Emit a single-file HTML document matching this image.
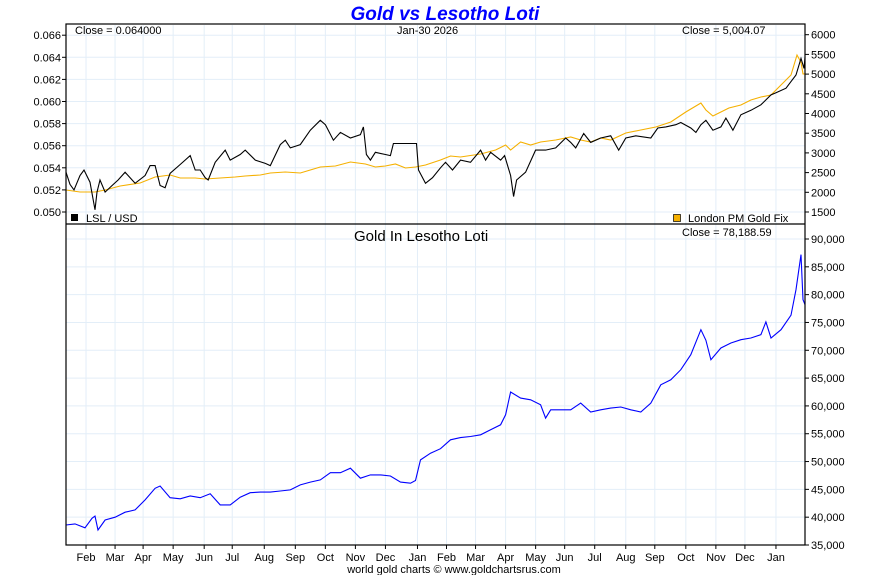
<!DOCTYPE html>
<html><head><meta charset="utf-8"><style>
body{margin:0;background:#fff;}
svg{display:block;font-family:"Liberation Sans",sans-serif;}
</style></head><body>
<svg id="c" width="890" height="575"></svg>
<script>
// ---- data ----
const monthLabels=["Feb","Mar","Apr","May","Jun","Jul","Aug","Sep","Oct","Nov","Dec","Jan","Feb","Mar","Apr","May","Jun","Jul","Aug","Sep","Oct","Nov","Dec","Jan"];
const monthDays=[20,49,77,107,138,166,198,229,259,289,319,351,380,409,439,469,498,528,559,588,619,649,678,709];
const leftTicks=[0.050,0.052,0.054,0.056,0.058,0.060,0.062,0.064,0.066];
const rightTicks=[1500,2000,2500,3000,3500,4000,4500,5000,5500,6000];
const bottomTicks=[35000,40000,45000,50000,55000,60000,65000,70000,75000,80000,85000,90000];
const lslDays=[
0,4,8,14,18,24,29,31,34,39,
46,52,59,64,69,79,84,89,94,99,
104,114,124,129,134,139,142,149,159,164,
174,179,189,199,204,214,219,224,234,244,
254,259,267,274,284,294,297,300,304,309,
319,324,327,350,352,359,366,374,379,386,
394,404,414,419,424,434,438,444,447,450,
459,469,479,489,499,504,509,517,524,534,
544,552,559,569,584,591,599,609,614,624,
629,634,639,646,654,659,666,674,684,694,
704,709,719,724,729,734,737,738];
const lslUsd=[
0.0536,0.0525,0.0520,0.0533,0.0538,0.0527,0.0502,0.0518,0.0529,0.0518,
0.0524,0.0529,0.0536,0.0531,0.0526,0.0533,0.0542,0.0542,0.0524,0.0522,
0.0535,0.0543,0.0551,0.0538,0.0538,0.0531,0.0529,0.0545,0.0556,0.0547,
0.0552,0.0556,0.0547,0.0544,0.0542,0.0561,0.0565,0.0558,0.0561,0.0574,
0.0583,0.0579,0.0565,0.0572,0.0567,0.0570,0.0577,0.0552,0.0547,0.0554,
0.0552,0.0551,0.0562,0.0562,0.0538,0.0526,0.0531,0.0540,0.0545,0.0538,
0.0547,0.0545,0.0556,0.0547,0.0554,0.0547,0.0551,0.0533,0.0514,0.0529,
0.0536,0.0556,0.0556,0.0558,0.0567,0.0563,0.0558,0.0571,0.0563,0.0567,
0.0569,0.0556,0.0567,0.0569,0.0567,0.0576,0.0577,0.0579,0.0581,0.0576,
0.0572,0.0579,0.0583,0.0574,0.0577,0.0585,0.0574,0.0588,0.0592,0.0597,
0.0606,0.0608,0.0612,0.0618,0.0624,0.0639,0.0630,0.0640];
const goldDays=[
0,14,29,39,54,74,89,104,114,129,
139,154,169,179,194,204,219,234,244,254,
269,284,299,309,319,329,339,349,359,374,
384,394,414,429,439,444,454,464,474,489,
504,514,524,534,544,559,574,589,604,619,
634,639,646,654,662,674,684,694,704,714,
724,730,734,736,738];
const goldUsd=[
2058,2008,2008,2058,2160,2236,2388,2440,2363,2363,
2337,2363,2388,2414,2440,2490,2515,2490,2566,2642,
2667,2769,2718,2642,2667,2718,2617,2642,2693,2820,
2921,2896,2972,3073,3200,3073,3277,3200,3277,3327,
3403,3327,3277,3378,3327,3505,3581,3657,3784,4038,
4266,4088,3936,4038,4139,4215,4342,4418,4469,4723,
4977,5485,5300,5004,5004];
const lotiDays=[
0,9,19,26,29,32,39,49,59,69,
79,89,94,104,114,124,134,144,154,164,
174,184,194,204,214,224,234,244,254,264,
274,284,294,304,314,324,334,344,349,354,
364,374,384,394,404,414,424,434,439,444,
454,464,474,479,484,494,504,514,524,534,
544,554,564,574,584,594,604,614,624,634,
639,644,654,664,674,684,694,699,704,714,
724,729,734,736,738];
const lotiLsl=[
38600,38800,38100,39800,40200,37700,39500,40000,40900,41300,
43100,45200,45600,43500,43300,43800,43500,44200,42200,42200,
43600,44400,44500,44500,44700,44900,45800,46300,46700,48000,
48000,48800,47000,47600,47600,47400,46300,46100,46600,50300,
51500,52300,53900,54300,54500,54800,55700,56600,58400,62500,
61400,61100,60200,57800,59300,59300,59300,60500,58900,59300,
59600,59800,59300,58900,60500,63800,64700,66500,69200,73700,
71800,68300,70400,71300,71900,72200,72800,75100,72200,73700,
76300,80900,87200,79100,78189];
// ---- scales ----
const X0=66,X1=805,DMAX=738;
const xS=d=>X0+d*(X1-X0)/DMAX;
const yL=v=>212-(v-0.050)/0.002*22.1;
const yR=v=>212-(v-1500)/500*19.7;
const yB=v=>545-(v-35000)/55000*306;
const NS="http://www.w3.org/2000/svg";
const svg=document.getElementById('c');
function mk(t,a,p){const e=document.createElementNS(NS,t);for(const k in a)e.setAttribute(k,a[k]);(p||svg).appendChild(e);return e;}
function txt(x,y,s,a){const e=mk('text',Object.assign({x:x,y:y,'font-size':11,fill:'#000'},a||{}));e.textContent=s;return e;}
// grid
const grid=mk('g',{});


monthDays.forEach(d=>{mk('line',{x1:xS(d),x2:xS(d),y1:25,y2:545,stroke:'#e3eef8','stroke-width':1},grid);});
leftTicks.forEach(v=>{mk('line',{x1:X0,x2:X1,y1:yL(v),y2:yL(v),stroke:'#e3eef8'},grid);});
bottomTicks.forEach(v=>{mk('line',{x1:X0,x2:X1,y1:yB(v),y2:yB(v),stroke:'#e3eef8'},grid);});
// title
const title=txt(445,20,"Gold vs Lesotho Loti",{'font-size':19,'font-weight':'bold','font-style':'italic',fill:'#0000ff','text-anchor':'middle'});


// axes ticks
leftTicks.forEach(v=>{const y=yL(v);mk('line',{x1:X0-4,x2:X0,y1:y,y2:y,stroke:'#000'});
 const t=txt(61,y+4,v.toFixed(3),{'text-anchor':'end'});
 
 });
rightTicks.forEach(v=>{const y=yR(v);mk('line',{x1:X1,x2:X1+4,y1:y,y2:y,stroke:'#000'});
 const t=txt(811,y+4,String(v));
 
 });
bottomTicks.forEach(v=>{const y=yB(v);mk('line',{x1:X1,x2:X1+4,y1:y,y2:y,stroke:'#000'});
 const t=txt(811,y+4,v.toLocaleString('en-US'));
 
 });
monthDays.forEach((d,i)=>{const x=xS(d);mk('line',{x1:x,x2:x,y1:545,y2:549,stroke:'#000'});
 const t=txt(x,561,monthLabels[i],{'text-anchor':'middle'});
 
 });
// series
function line(days,vals,ys,color,name){
 const n=Math.min(days.length,vals.length);
 const pts=[];for(let i=0;i<n;i++)pts.push(xS(days[i]).toFixed(1)+','+ys(vals[i]).toFixed(1));
 const e=mk('polyline',{points:pts.join(' '),fill:'none',stroke:color,'stroke-width':1.1});
 
 
}
line(goldDays,goldUsd,yR,'#f5b000','gold-usd-line');
line(lslDays,lslUsd,yL,'#000','lsl-usd-line');
line(lotiDays,lotiLsl,yB,'#0000ff','gold-in-loti-line');
// panel borders
mk('rect',{x:X0,y:24,width:X1-X0,height:521,fill:'none',stroke:'#000','stroke-width':1.2});
mk('line',{x1:X0,x2:X1,y1:224,y2:224,stroke:'#000','stroke-width':1.2});
// labels
const l1=txt(75,34,"Close = 0.064000");
const l2=txt(397,34,"Jan-30  2026");
const l3=txt(682,34,"Close = 5,004.07");
const l4=txt(682,236,"Close = 78,188.59");
const l5=txt(354,241,"Gold In Lesotho Loti",{'font-size':15});
const lg1=mk('rect',{x:71,y:214,width:7,height:7,fill:'#000'});
const lt1=txt(86,222,"LSL / USD");
const lg2=mk('rect',{x:673.5,y:214.5,width:7,height:7,fill:'#f5b000',stroke:'#000','stroke-width':0.7});
const lt2=txt(688,222,"London PM Gold Fix");
const ft=txt(454,573,"world gold charts © www.goldchartsrus.com",{'text-anchor':'middle'});
</script>
</body></html>
